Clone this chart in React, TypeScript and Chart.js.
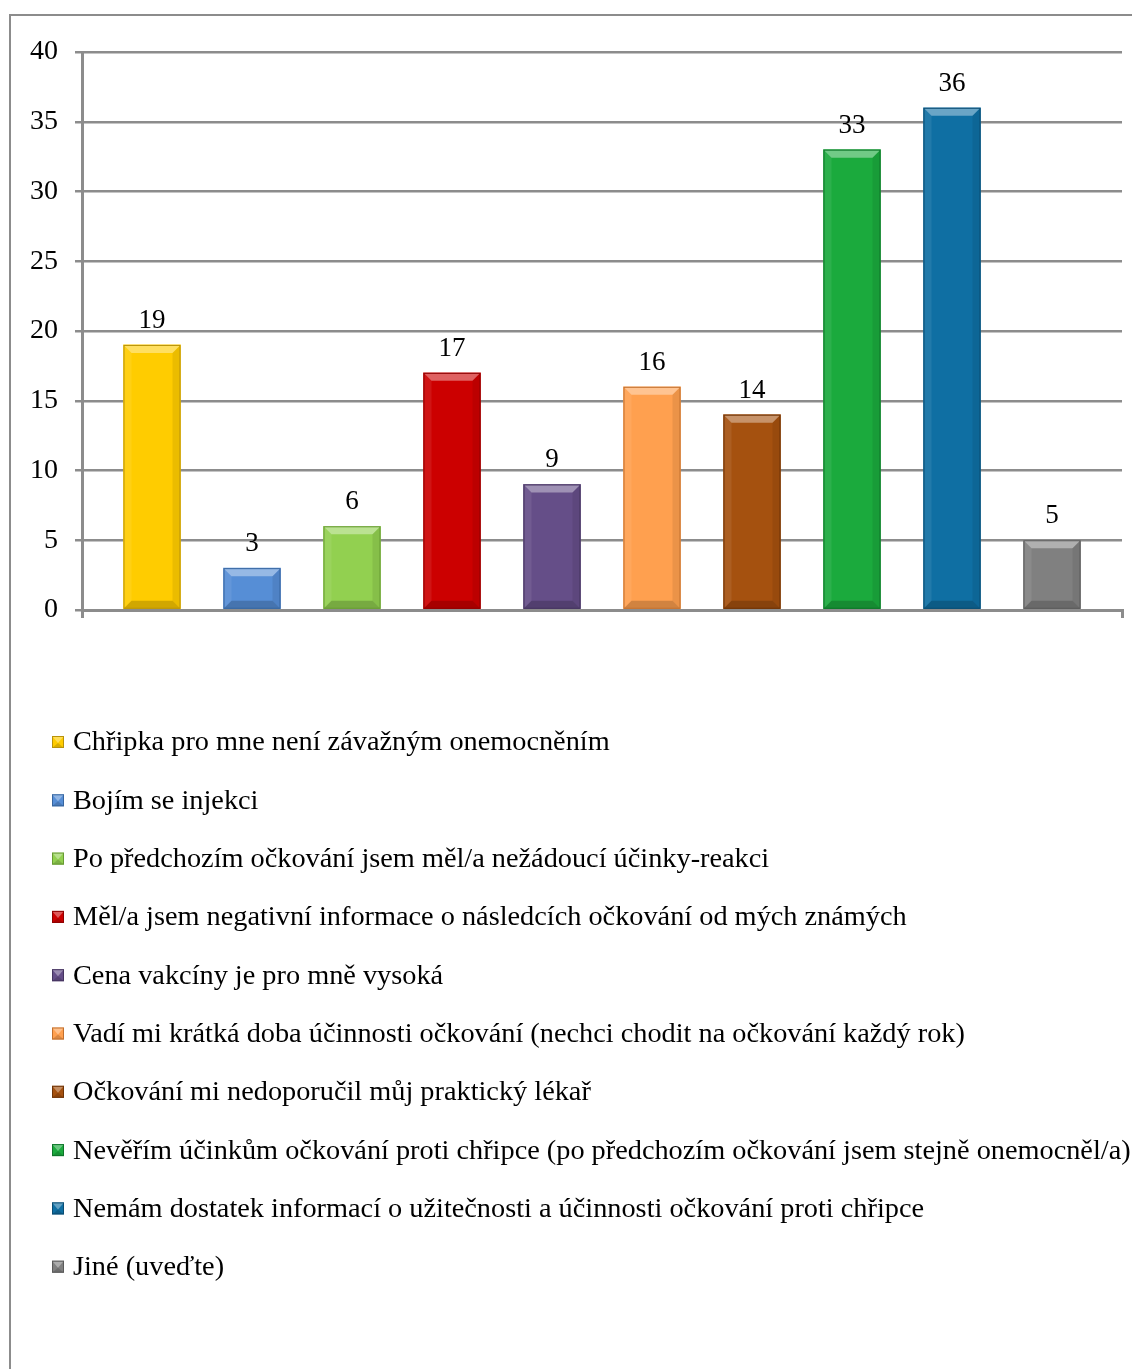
import { useEffect, useRef } from "react";
import { Chart, registerables } from "chart.js";

Chart.register(...registerables);

// Reasons for not getting a flu shot, number of respondents per answer
const categories = [
  "Chřipka pro mne není závažným onemocněním",
  "Bojím se injekci",
  "Po předchozím očkování jsem měl/a nežádoucí účinky-reakci",
  "Měl/a jsem negativní informace o následcích očkování od mých známých",
  "Cena vakcíny je pro mně vysoká",
  "Vadí mi krátká doba účinnosti očkování (nechci chodit na očkování každý rok)",
  "Očkování mi nedoporučil můj praktický lékař",
  "Nevěřím účinkům očkování proti chřipce (po předchozím očkování jsem stejně onemocněl/a)",
  "Nemám dostatek informací o užitečnosti a účinnosti očkování proti chřipce",
  "Jiné (uveďte)",
];
const counts = [19, 3, 6, 17, 9, 16, 14, 33, 36, 5];
const barColors = [
  "#FFCC00", "#568ED6", "#92D050", "#CC0000", "#654E88",
  "#FFA04F", "#A5510F", "#1BAA3D", "#0F6FA3", "#808080",
];
const edgeColors = [
  "#B8920A", "#36659F", "#679A33", "#8E0000", "#45345F",
  "#C2702E", "#6E3306", "#0E7429", "#0A4C72", "#5A5A5A",
];
const yMin = 0;
const yMax = 40;
const yStep = 5;

const FONT = "'Liberation Serif', 'Times New Roman', serif";
const GRID = "#8C8C8C";
const W = 1132;
const H = 1369;

function poly(ctx: CanvasRenderingContext2D, pts: number[][], fill: string) {
  ctx.beginPath();
  ctx.moveTo(pts[0][0], pts[0][1]);
  for (let i = 1; i < pts.length; i++) ctx.lineTo(pts[i][0], pts[i][1]);
  ctx.closePath();
  ctx.fillStyle = fill;
  ctx.fill();
}

// Bevelled face: light top, soft sides, darker bottom edge
function bevel(ctx: CanvasRenderingContext2D, l: number, t: number, r: number, b: number, d: number) {
  poly(ctx, [[l, t], [r, t], [r - d, t + d], [l + d, t + d]], "rgba(255,255,255,0.38)");
  poly(ctx, [[l, t], [l + d, t + d], [l + d, b - d], [l, b]], "rgba(255,255,255,0.08)");
  poly(ctx, [[r, t], [r, b], [r - d, b - d], [r - d, t + d]], "rgba(0,0,0,0.08)");
  poly(ctx, [[l, b], [l + d, b - d], [r - d, b - d], [r, b]], "rgba(0,0,0,0.18)");
}

const barStyle = {
  id: "barStyle",
  afterDatasetsDraw(chart: any) {
    const ctx: CanvasRenderingContext2D = chart.ctx;
    const meta = chart.getDatasetMeta(0);
    ctx.save();
    meta.data.forEach((bar: any, i: number) => {
      const { x, y, base, width } = bar.getProps(["x", "y", "base", "width"], true);
      const l = x - width / 2;
      const r = x + width / 2;
      bevel(ctx, l, y, r, base, 8);
      ctx.strokeStyle = edgeColors[i];
      ctx.lineWidth = 1;
      ctx.strokeRect(l + 0.5, y + 0.5, width - 1, base - y - 1);
      // value label above the bar
      ctx.fillStyle = "#000";
      ctx.font = `27px ${FONT}`;
      ctx.textAlign = "center";
      ctx.textBaseline = "alphabetic";
      ctx.fillText(String(counts[i]), x, y - 17);
    });
    ctx.restore();
  },
};

const frameAndLegend = {
  id: "frameAndLegend",
  afterDraw(chart: any) {
    const ctx: CanvasRenderingContext2D = chart.ctx;
    ctx.save();
    // outer frame
    ctx.strokeStyle = GRID;
    ctx.lineWidth = 2;
    ctx.strokeRect(10, 15, W + 40, H + 40);

    // legend, one entry per row
    const startY = 742;
    const rowGap = 58.3;
    const box = 12;
    const boxX = 52;
    const textX = 73;
    ctx.font = `28.3px ${FONT}`;
    ctx.textAlign = "left";
    ctx.textBaseline = "middle";
    chart.data.labels.forEach((label: string, i: number) => {
      const cy = startY + i * rowGap;
      const top = cy - box / 2;
      ctx.fillStyle = barColors[i];
      ctx.fillRect(boxX, top, box, box);
      poly(ctx, [[boxX, top], [boxX + box, top], [boxX + box / 2, top + box / 2 + 1]], "rgba(255,255,255,0.35)");
      poly(ctx, [[boxX, top + box], [boxX + box / 2, top + box / 2 + 1], [boxX + box, top + box]], "rgba(0,0,0,0.15)");
      ctx.strokeStyle = edgeColors[i];
      ctx.lineWidth = 1;
      ctx.strokeRect(boxX + 0.5, top + 0.5, box - 1, box - 1);
      ctx.fillStyle = "#000";
      ctx.fillText(label, textX, cy + 1);
    });
    ctx.restore();
  },
};

export default function App() {
  const canvasRef = useRef<HTMLCanvasElement | null>(null);

  useEffect(() => {
    document.body.style.margin = "0";
    const canvas = canvasRef.current;
    if (!canvas) return;
    const chart = new Chart(canvas, {
      type: "bar",
      data: {
        labels: categories,
        datasets: [
          {
            data: counts.map((v, i) => ({ x: i, y: v })),
            backgroundColor: barColors,
            borderWidth: 0,
            barThickness: 57,
          },
        ],
      },
      plugins: [barStyle, frameAndLegend],
      options: {
        responsive: false,
        animation: false,
        devicePixelRatio: 1,
        layout: { padding: { top: 52, left: 0, right: 10, bottom: H - 610 } },
        plugins: {
          legend: { display: false },
          tooltip: { enabled: false },
        },
        scales: {
          x: {
            type: "linear",
            min: -0.7,
            max: 9.7,
            offset: false,
            afterBuildTicks: (s: any) => {
              s.ticks = [{ value: s.min }, { value: s.max }];
            },
            afterFit: (s: any) => {
              s.height = 0;
            },
            ticks: { display: false },
            grid: {
              offset: false,
              drawOnChartArea: false,
              drawTicks: true,
              tickLength: 8,
              color: GRID,
              lineWidth: 3,
            },
            border: { display: true, color: GRID, width: 3 },
          },
          y: {
            min: yMin,
            max: yMax,
            afterFit: (s: any) => {
              s.width = 82;
            },
            ticks: {
              stepSize: yStep,
              color: "#000",
              font: { family: FONT, size: 28 },
              padding: 17,
            },
            grid: { color: GRID, lineWidth: 2.5, tickLength: 7, drawTicks: true },
            border: { display: true, color: GRID, width: 3 },
          },
        },
      },
    });
    return () => chart.destroy();
  }, []);

  return (
    <div style={{ width: W, height: H, background: "#fff" }}>
      <canvas ref={canvasRef} width={W} height={H} style={{ display: "block" }} />
    </div>
  );
}
